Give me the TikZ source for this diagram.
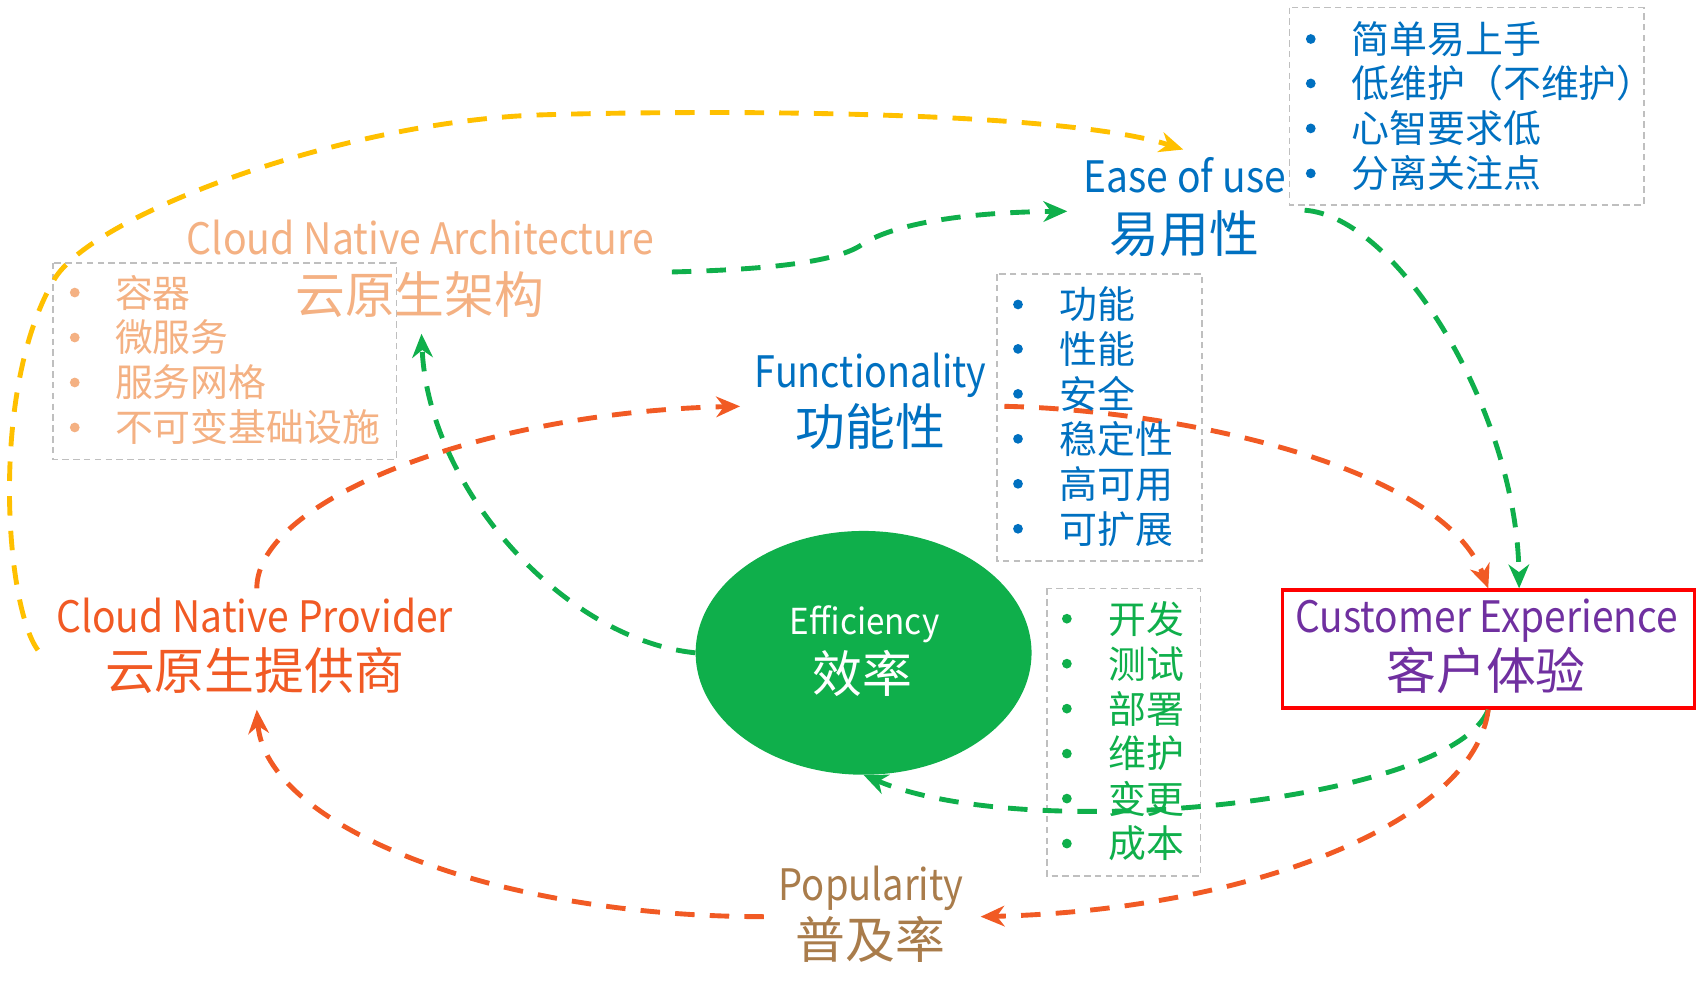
\documentclass[tikz,border=0pt]{standalone}
\usepackage{fontspec}
\usepackage{graphicx}
\setmainfont{Noto Sans CJK SC}
\usetikzlibrary{arrows.meta,shapes.geometric}
\definecolor{cyellow}{HTML}{FFC000}
\definecolor{csalmon}{HTML}{F4B183}
\definecolor{cblue}{HTML}{0070C0}
\definecolor{cgreen}{HTML}{0FAF4B}
\definecolor{corange}{HTML}{F15A24}
\definecolor{cpurple}{HTML}{7030A0}
\definecolor{cbrown}{HTML}{A97C4B}
\definecolor{cgray}{HTML}{BFBFBF}
\newcommand{\sqz}[2]{\scalebox{#1}[1]{#2}}
\begin{document}
\begin{tikzpicture}[x=1pt,y=-1pt,
  lat/.style={anchor=base, inner sep=0pt, font=\fontsize{40}{48}\selectfont},
  han/.style={anchor=center, inner sep=0pt, font=\fontsize{46}{55}\selectfont},
  item/.style={anchor=west, inner sep=0pt, font=\fontsize{35}{42}\selectfont},
  listbox/.style={draw=cgray, line width=1.5pt, dash pattern=on 6pt off 4pt},
  flow/.style={line width=4.5pt, dash pattern=on 18pt off 14pt,
    -{Stealth[length=22pt,width=19pt,inset=7pt]}},
]
\useasboundingbox (0,0) rectangle (1568,920);

% list boxes
\draw[listbox] (49,242.5) rectangle (366,424);
\draw[listbox] (1190,7) rectangle (1517,189);
\draw[listbox] (920,253) rectangle (1109.5,517.5);
\draw[listbox] (966,543) rectangle (1108,808.5);

% main shapes
\node (eff) [ellipse, fill=cgreen, inner sep=0pt, minimum width=310pt, minimum height=225pt] at (797,602.5) {};
\node (ce) [draw=red, line width=3pt, inner sep=0pt, minimum width=380pt, minimum height=109pt] at (1373.5,599) {};

% titles
\node[lat, text=csalmon] (archE) at (388,235) {\sqz{0.905}{Cloud Native Architecture}};
\node[han, text=csalmon] (archC) at (387.5,271.5) {云原生架构};
\node[lat, text=cblue] (easeE) at (1093.5,178) {\sqz{0.9}{Ease of use}};
\node[han, text=cblue] (easeC) at (1093,215.5) {易用性};
\node[lat, text=cblue] (funcE) at (803.5,358) {\sqz{0.87}{Functionality}};
\node[han, text=cblue] (funcC) at (803.5,393.5) {功能性};
\node[lat, text=corange] (cnpE) at (235,584) {\sqz{0.9}{Cloud Native Provider}};
\node[han, text=corange] (cnpC) at (235,619) {云原生提供商};
\node[lat, text=white, font=\fontsize{33}{40}\selectfont] (effE) at (798,586) {\sqz{0.93}{Efficiency}};
\node[han, text=white] (effC) at (796,621.5) {效率};
\node[lat, text=cpurple] (ceE) at (1372,584) {\sqz{0.897}{Customer Experience}};
\node[han, text=cpurple] (ceC) at (1371.5,619) {客户体验};
\node[lat, text=cbrown] (popE) at (804,831) {\sqz{0.88}{Popularity}};
\node[han, text=cbrown] (popC) at (803.5,866.7) {普及率};

% connector end points
\coordinate (yS) at (35,600);
\coordinate (yE) at (1092,138);
\coordinate (gaS) at (620,251);
\coordinate (gaE) at (985,195);
\coordinate (gbS) at (1204,194);
\coordinate (oaS) at (927,375);
\coordinate (obS) at (237,543);
\coordinate (obE) at (683,375);
\coordinate (gcE) at (389,308);
\coordinate (ocE) at (905,846);
\coordinate (odS) at (705,846);
\coordinate (odE) at (237,655);

% connectors
\draw[flow, cyellow] (yS) .. controls (5,560) and (-10,360) .. (50,258)
  .. controls (85.5,197.7) and (320,111.4) .. (500,106)
  .. controls (650,101.5) and (977.8,101.3) .. (yE);
\draw[flow, cgreen] (gaS) .. controls (700,249) and (770,243) .. (795,226)
  .. controls (820,209) and (880,196) .. (gaE);
\draw[flow, cgreen] (gbS) .. controls (1290,200) and (1400,380) .. ([xshift=28.5pt]ce.north);
\draw[flow, corange] (oaS) .. controls (1080,378) and (1330,428) .. (ce.north);
\draw[flow, corange] (obS) .. controls (237,460) and (450,380) .. (obE);
\draw[flow, cgreen] (eff.west) .. controls (520,590) and (395,450) .. (gcE);
\draw[flow, cgreen] (ce.south) .. controls (1340,740) and (950,780) .. (eff.south);
\draw[flow, corange] (ce.south) .. controls (1360,760) and (1150,840) .. (ocE);
\draw[flow, corange] (odS) .. controls (450,846) and (245,760) .. (odE);

% lists
\foreach \t/\yy [count=\i] in {容器/270, 微服务/311.5, 服务网格/353, 不可变基础设施/394.5}{
  \fill[csalmon] (69,\yy) circle (4.5pt);
  \node[item, text=csalmon] (archL\i) at (106,\yy) {\t};
}
\foreach \t/\yy [count=\i] in {简单易上手/36, 低维护（不维护）/77, 心智要求低/118.5, 分离关注点/160}{
  \fill[cblue] (1209.7,\yy) circle (4.5pt);
  \node[item, text=cblue] (easeL\i) at (1247,\yy) {\t};
}
\foreach \t/\yy [count=\i] in {功能/281, 性能/322, 安全/363.5, 稳定性/405, 高可用/446.5, 可扩展/488}{
  \fill[cblue] (939.5,\yy) circle (4.5pt);
  \node[item, text=cblue] (funcL\i) at (978,\yy) {\t};
}
\foreach \t/\yy [count=\i] in {开发/571, 测试/612.5, 部署/654, 维护/695.5, 变更/737, 成本/778.5}{
  \fill[cgreen] (984.6,\yy) circle (4.5pt);
  \node[item, text=cgreen] (effL\i) at (1023,\yy) {\t};
}
\end{tikzpicture}
\end{document}
